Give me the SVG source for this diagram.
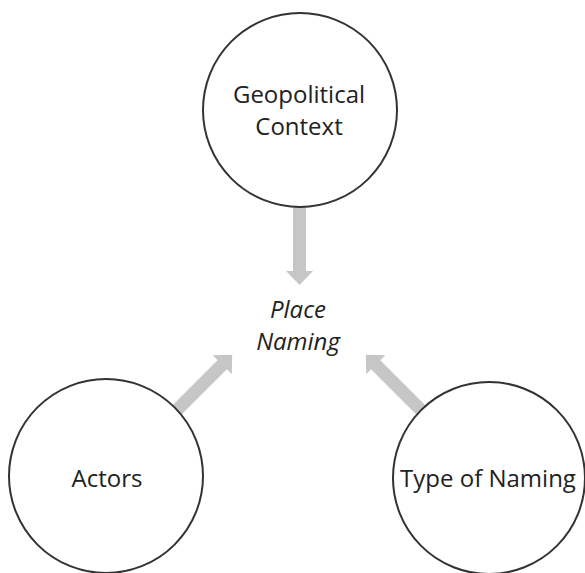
<svg xmlns="http://www.w3.org/2000/svg" width="585" height="573" viewBox="0 0 585 573">
<style>
.node circle{fill:#ffffff;stroke:#333333;stroke-width:2}
.lbl{font-family:"Open Sans","Noto Sans","Liberation Sans",sans-serif;font-size:24px;fill:#222222;text-anchor:middle}
.it{font-style:italic}
.arrow{fill:#c6c6c6}
</style>
<defs>
<path id="arr" d="M-6.5,0 H6.5 V64 H13.5 L0,78 L-13.5,64 H-6.5 Z"/>
</defs>
<rect width="585" height="573" fill="#ffffff"/>
<g id="connectors">
<use href="#arr" class="arrow" transform="translate(299.5,207)"/>
<use href="#arr" class="arrow" transform="translate(177,410) rotate(-135)"/>
<use href="#arr" class="arrow" transform="translate(421,410) rotate(135)"/>
</g>
<g id="geopolitical" class="node">
<circle cx="300" cy="110" r="97"/>
<text class="lbl" x="299" y="103">Geopolitical</text>
<text class="lbl" x="299" y="135">Context</text>
</g>
<g id="place-naming">
<text class="lbl it" x="298" y="318">Place</text>
<text class="lbl it" x="298" y="350">Naming</text>
</g>
<g id="actors" class="node">
<circle cx="106" cy="476" r="97"/>
<text class="lbl" x="107" y="487">Actors</text>
</g>
<g id="type-of-naming" class="node">
<circle cx="489" cy="478" r="96"/>
<text class="lbl" x="488" y="487">Type of Naming</text>
</g>
</svg>
